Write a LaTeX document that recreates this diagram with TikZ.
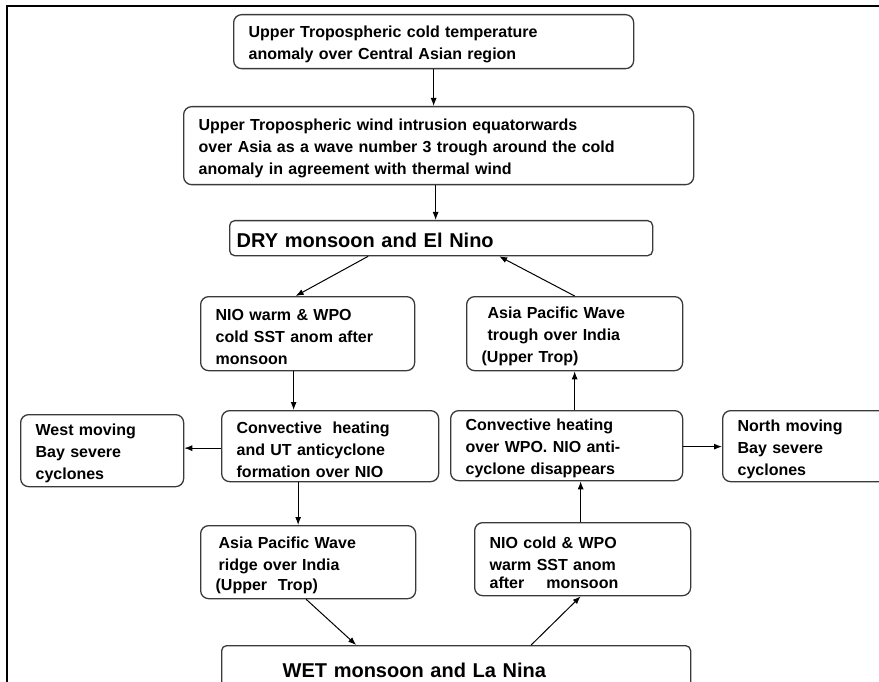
\documentclass[tikz,border=0pt]{standalone}
\usepackage{fontspec}
\setmainfont{Liberation Sans}
\usetikzlibrary{arrows.meta,positioning,calc}
\definecolor{BoxLine}{HTML}{3A3A3A}

\begin{document}
\begin{tikzpicture}[x=1pt, y=-1pt,
  box/.style={draw=BoxLine, line width=1.3pt, rounded corners=8pt,
              anchor=north west, inner xsep=15pt, inner ysep=1pt, align=left,
              font=\fontsize{16}{22}\selectfont\bfseries,
              execute at begin node={\rule{0pt}{18pt}}},
  state/.style={box, rounded corners=5pt, inner xsep=7pt,
                font=\fontsize{20}{22}\selectfont\bfseries,
                execute at begin node={}},
  arr/.style={-{Latex[length=8pt, width=6pt]}, line width=1pt},
  >=Latex
]
  \useasboundingbox (0,0) rectangle (879,682);
  % outer frame (top and left edges only)
  \draw[line width=2.5pt] (7,682) -- (7,6) -- (879,6);

  % upper chain
  \node[box, text width=370pt, minimum height=54pt] (top) at (233,14)
    {Upper Tropospheric cold temperature\\anomaly over Central Asian region};
  \node[box, text width=480pt, minimum height=78pt] (wind) at (183,106)
    {Upper Tropospheric wind intrusion equatorwards\\
     over Asia as a wave number 3 trough around the cold\\
     anomaly in agreement with thermal wind};
  \node[state, text width=409pt, minimum height=35pt] (dry) at (229,220)
    {DRY monsoon and El Nino};

  % left branch
  \node[box, text width=184pt, minimum height=74pt] (nwarm) at (200,296)
    {NIO warm \& WPO\\cold SST anom after\\monsoon};
  \node[box, text width=187pt, minimum height=71pt] (convL) at (221,410)
    {Convective~ heating\\and UT anticyclone\\formation over NIO};
  \node[box, text width=133pt, minimum height=72pt] (wmove) at (20,414)
    {West moving\\Bay severe\\cyclones};
  \node[box, text width=185pt, minimum height=73pt] (ridge) at (200,525)
    {\hspace{3pt}Asia Pacific Wave\\\hspace{3pt}ridge over India\\[-2pt](Upper~ Trop)};

  % right branch
  \node[box, text width=186pt, minimum height=74pt] (trough) at (466,296)
    {\hspace{6pt}Asia Pacific Wave\\\hspace{6pt}trough over India\\(Upper Trop)};
  \node[box, text width=202pt, minimum height=70pt] (convR) at (450,410)
    {Convective heating\\over WPO. NIO anti-\\cyclone disappears};
  \node[box, text width=135pt, minimum height=71pt] (nmove) at (722,410)
    {North moving\\Bay severe\\cyclones};
  \node[box, text width=186pt, minimum height=73pt] (ncold) at (474,522)
    {NIO cold \& WPO\\warm SST anom\\[-4pt]after\hspace{22pt}monsoon};

  \node[state, inner xsep=61pt, text width=347pt, minimum height=46pt] (wet) at (221,645)
    {WET monsoon and La Nina};

  % connectors
  \draw[arr] (top.south) -- (top.south |- wind.north);
  \draw[arr] ([xshift=-3pt]wind.south) -- ([xshift=-3pt]wind.south |- dry.north);
  \draw[arr] ([xshift=-73pt]dry.south) -- ([xshift=-12pt]nwarm.north);
  \draw[arr] (trough.north) -- ([xshift=58pt]dry.south);
  \draw[arr] ([xshift=-14pt]nwarm.south) -- ([xshift=-14pt]nwarm.south |- convL.north);
  \draw[arr] ([xshift=8pt]convR.north) -- ([xshift=8pt]convR.north |- trough.south);
  \draw[arr] ([yshift=-2pt]convL.west) -- ([yshift=-2pt]convL.west -| wmove.east);
  \draw[arr] ([yshift=-1pt]convR.east) -- ([yshift=-1pt]convR.east -| nmove.west);
  \draw[arr] ([xshift=-32pt]convL.south) -- ([xshift=-32pt]convL.south |- ridge.north);
  \draw[arr] ([xshift=-2pt]ridge.south) -- ([xshift=-100pt]wet.north);
  \draw[arr] ([xshift=75pt]wet.north) -- ([xshift=-2pt]ncold.south);
  \draw[arr] ([xshift=-2pt]ncold.north) -- ([xshift=-2pt]ncold.north |- convR.south);
\end{tikzpicture}
\end{document}
